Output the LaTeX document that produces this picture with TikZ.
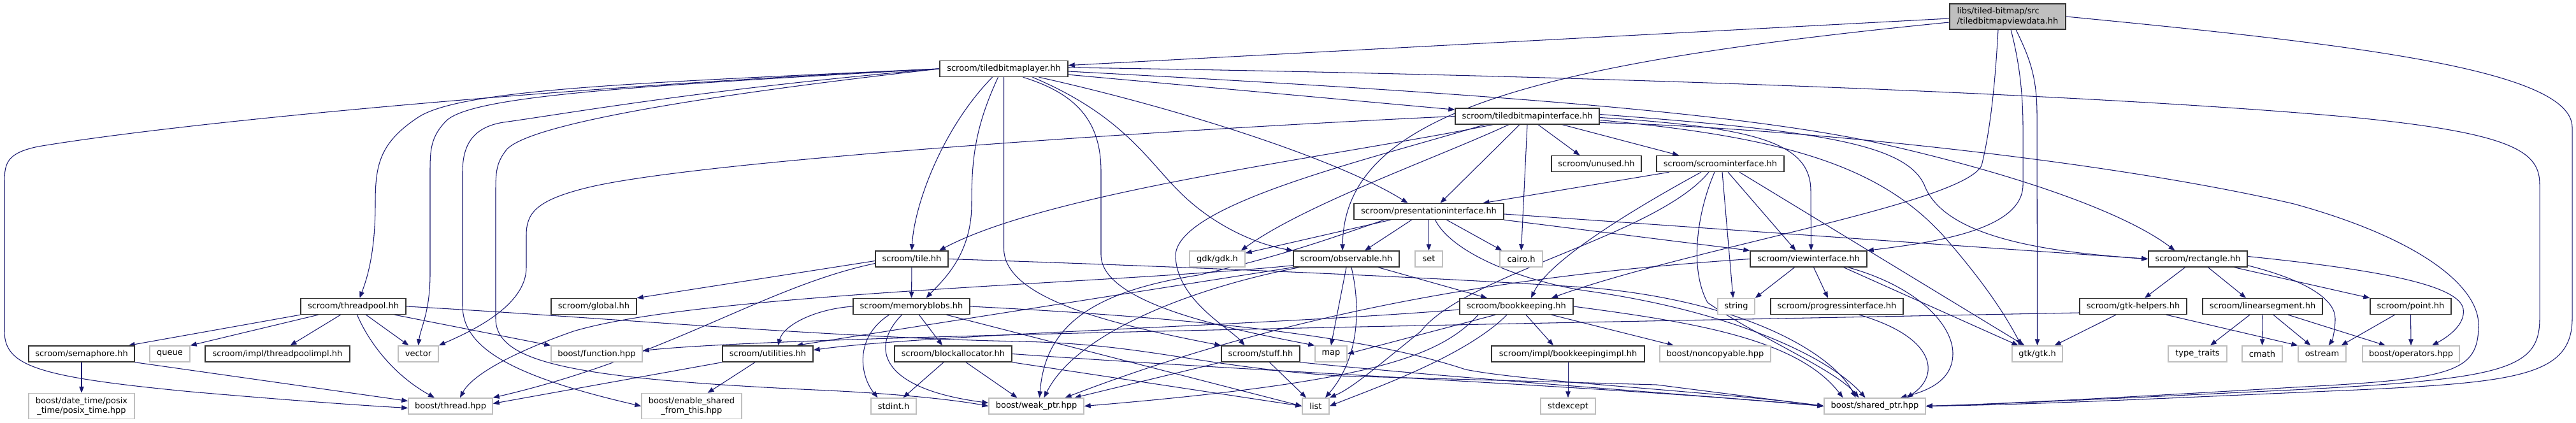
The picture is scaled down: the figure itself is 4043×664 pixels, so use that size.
\documentclass[tikz,border=0pt]{standalone}
\usepackage{fontspec}
\setmainfont{DejaVu Sans}
\usetikzlibrary{arrows.meta}
\pgfdeclarelayer{back}
\pgfdeclarelayer{edges}
\pgfsetlayers{back,edges,main}
\definecolor{edgec}{HTML}{191970}
\definecolor{bordk}{HTML}{333333}
\definecolor{bordg}{HTML}{BFBFBF}
\definecolor{topfill}{HTML}{BFBFBF}
\begin{document}
\begin{tikzpicture}[x=0.1mm,y=-0.1mm,
  nb/.style={draw=bordk, line width=0.4pt, fill=white, inner sep=0pt, minimum height=2.5mm, font=\fontsize{3.7}{4.4}\selectfont, text=black},
  ng/.style={nb, draw=bordg},
  ntop/.style={nb, fill=topfill},
  edg/.style={draw=edgec, line width=0.3pt, -{Triangle[length=1mm,width=0.75mm]}}]
\useasboundingbox (0,0) rectangle (4043,664);
\begin{pgfonlayer}{back}
\fill[white] (0,0) rectangle (4043,664);
\end{pgfonlayer}
% nodes
\node[ntop, minimum width=18.2mm, minimum height=4mm, align=left] (top) at (3151,26) {libs/tiled-bitmap/src\\/tiledbitmapviewdata.hh};
\node[nb, minimum width=20.1mm] (tbl) at (1575.5,108) {scroom/tiledbitmaplayer.hh};
\node[nb, minimum width=22.6mm] (tbi) at (2397,182.5) {scroom/tiledbitmapinterface.hh};
\node[nb, minimum width=14.1mm] (unused) at (2505.5,257) {scroom/unused.hh};
\node[nb, minimum width=20mm] (si) at (2700,257) {scroom/scroominterface.hh};
\node[nb, minimum width=23.5mm] (pi) at (2242.5,332) {scroom/presentationinterface.hh};
\node[nb, minimum width=11.4mm] (tile) at (1431,406.5) {scroom/tile.hh};
\node[ng, minimum width=8.7mm] (gdk) at (1910.5,406.5) {gdk/gdk.h};
\node[nb, minimum width=16.6mm] (obs) at (2113,406.5) {scroom/observable.hh};
\node[ng, minimum width=4.3mm] (set) at (2242.5,406.5) {set};
\node[ng, minimum width=6.7mm] (cairo) at (2387.5,406.5) {cairo.h};
\node[nb, minimum width=18.3mm] (vi) at (2838.5,406.5) {scroom/viewinterface.hh};
\node[nb, minimum width=15.5mm] (rect) at (3449.5,406.5) {scroom/rectangle.hh};
\node[nb, minimum width=16.5mm] (tp) at (554.5,481) {scroom/threadpool.hh};
\node[nb, minimum width=13.4mm] (global) at (932,481) {scroom/global.hh};
\node[nb, minimum width=18.3mm] (mb) at (1430.5,481) {scroom/memoryblobs.hh};
\node[nb, minimum width=17.8mm] (bk) at (2380,481) {scroom/bookkeeping.hh};
\node[ng, minimum width=5.8mm] (string) at (2725,481) {string};
\node[nb, minimum width=20.8mm] (progress) at (2883,481) {scroom/progressinterface.hh};
\node[nb, minimum width=16.8mm] (gtkh) at (3348,481) {scroom/gtk-helpers.hh};
\node[nb, minimum width=18.8mm] (ls) at (3551,481) {scroom/linearsegment.hh};
\node[nb, minimum width=12.7mm] (point) at (3783.5,481) {scroom/point.hh};
\node[nb, minimum width=16.6mm] (sem) at (128,555.5) {scroom/semaphore.hh};
\node[ng, minimum width=6.3mm] (queue) at (266.5,555.5) {queue};
\node[nb, minimum width=22.7mm] (tpi) at (435.5,555.5) {scroom/impl/threadpoolimpl.hh};
\node[ng, minimum width=6.3mm] (vector) at (656.5,555.5) {vector};
\node[ng, minimum width=14.3mm] (function) at (936.5,555.5) {boost/function.hpp};
\node[nb, minimum width=14.2mm] (util) at (1205,555.5) {scroom/utilities.hh};
\node[nb, minimum width=18.4mm] (ba) at (1496,555.5) {scroom/blockallocator.hh};
\node[nb, minimum width=12.3mm] (stuff) at (1978.5,555.5) {scroom/stuff.hh};
\node[ng, minimum width=5mm] (map) at (2089,555.5) {map};
\node[nb, minimum width=24mm] (bki) at (2461,555.5) {scroom/impl/bookkeepingimpl.hh};
\node[ng, minimum width=17.4mm] (noncopy) at (2692,555.5) {boost/noncopyable.hpp};
\node[ng, minimum width=7.9mm] (gtk) at (3197.5,555.5) {gtk/gtk.h};
\node[ng, minimum width=9.2mm] (tt) at (3449,555.5) {type\_traits};
\node[ng, minimum width=6.3mm] (cmath) at (3550.5,555.5) {cmath};
\node[ng, minimum width=7.5mm] (ostream) at (3644.5,555.5) {ostream};
\node[ng, minimum width=15.2mm] (ops) at (3784,555.5) {boost/operators.hpp};
\node[ng, minimum width=16.6mm, minimum height=4mm, align=center] (dt) at (128,637.5) {boost/date\_time/posix\\\_time/posix\_time.hpp};
\node[ng, minimum width=13.2mm] (thread) at (707,637.5) {boost/thread.hpp};
\node[ng, minimum width=15.7mm, minimum height=4mm, align=center] (esft) at (1085.5,637.5) {boost/enable\_shared\\\_from\_this.hpp};
\node[ng, minimum width=7.1mm] (stdint) at (1402.5,637.5) {stdint.h};
\node[ng, minimum width=14.9mm] (weak) at (1626.5,637.5) {boost/weak\_ptr.hpp};
\node[ng, minimum width=4.2mm] (list) at (2065,637.5) {list};
\node[ng, minimum width=8.6mm] (stdexcept) at (2461,637.5) {stdexcept};
\node[ng, minimum width=15.9mm] (shared) at (2942.5,637.5) {boost/shared\_ptr.hpp};
\begin{pgfonlayer}{edges}
% top
\draw[edg] ([yshift=-0.3mm]top.west) -- (tbl);
\draw[edg] ([yshift=-0.9mm]top.west) .. controls (2400,100) and (2110,180) .. ([xshift=-0.6mm]obs.north);
\draw[edg] ([xshift=-1.5mm]top.south) .. controls (3132,120) and (3125,200) .. (3110,260) .. controls (3080,320) and (2650,390) .. ([xshift=5.5mm]bk.north);
\draw[edg] ([xshift=0.5mm]top.south) .. controls (3170,100) and (3175,150) .. (3175,200) -- (3175,290) .. controls (3175,360) and (3040,380) .. (vi.north east);
\draw[edg] ([xshift=1.3mm]top.south) .. controls (3185,90) and (3197,120) .. (3197,180) -- (gtk.north);
\draw[edg] (top.east) .. controls (3700,70) and (4037,110) .. (4037,200) -- (4037,500) .. controls (4037,590) and (3950,600) .. (3700,612) .. controls (3400,625) and (3200,635) .. (shared.east);
% tbl
\draw[edg] (tbl) -- (tbi);
\draw[edg] ([xshift=5.5mm]tbl.south) .. controls (1850,170) and (2100,250) .. ([xshift=-3.3mm]pi.north);
\draw[edg] ([xshift=4.5mm]tbl.south) .. controls (1760,180) and (1800,250) .. (1850,300) .. controls (1910,360) and (1980,385) .. (obs.north west);
\draw[edg] ([xshift=3mm]tbl.south) .. controls (1700,150) and (1728,200) .. (1728,270) -- (1728,400) .. controls (1728,480) and (1950,520) .. (map.north west);
\draw[edg] (tbl.south) -- (1575.5,390) .. controls (1575.5,470) and (1750,510) .. (stuff.north west);
\draw[edg] ([xshift=-1.8mm]tbl.south) .. controls (1480,200) and (1435,320) .. (tile.north);
\draw[edg] ([xshift=-0.9mm]tbl.south) .. controls (1530,200) and (1525,250) .. (1525,320) .. controls (1525,400) and (1480,440) .. ([xshift=2.3mm]mb.north);
\draw[edg] (tbl.west) .. controls (1000,130) and (720,140) .. (655,185) .. controls (595,225) and (589,260) .. (589,320) .. controls (589,400) and (575,440) .. ([xshift=1mm]tp.north);
\draw[edg] (tbl.west) .. controls (1000,135) and (740,150) .. (700,190) .. controls (676,215) and (675,235) .. (675,270) -- (675,430) .. controls (675,490) and (660,515) .. (vector.north);
\draw[edg] (tbl.west) .. controls (900,135) and (300,190) .. (60,230) .. controls (12,240) and (7,255) .. (7,285) -- (7,520) .. controls (7,575) and (60,592) .. (300,615) .. controls (450,628) and (560,636) .. ([yshift=-0.3mm]thread.west);
\draw[edg] (tbl.west) .. controls (1100,140) and (880,180) .. (790,192) .. controls (740,200) and (726,230) .. (726,270) -- (726,480) .. controls (726,545) and (800,590) .. (esft.west);
\draw[edg] (tbl.west) .. controls (1100,150) and (830,195) .. (795,235) .. controls (779,255) and (778,270) .. (778,300) -- (778,500) .. controls (778,570) and (900,595) .. (1300,613) .. controls (1420,619) and (1500,628) .. (weak.west);
\draw[edg] ([yshift=-0.4mm]tbl.east) .. controls (2200,140) and (2700,170) .. (2950,225) .. controls (3150,270) and (3330,330) .. ([xshift=-3.6mm]rect.north);
\draw[edg] ([yshift=0.2mm]tbl.east) .. controls (2500,118) and (3300,148) .. (3700,185) .. controls (3950,210) and (3986,240) .. (3986,290) -- (3986,500) .. controls (3986,580) and (3930,595) .. (3600,612) .. controls (3350,624) and (3150,634) .. (shared.east);
% tbi
\draw[edg] (tbi.west) .. controls (1900,200) and (1100,250) .. (920,295) .. controls (840,315) and (826,335) .. (826,370) -- (826,420) .. controls (826,480) and (740,520) .. (vector.north east);
\draw[edg] ([xshift=-5.4mm]tbi.south) .. controls (2100,245) and (1650,300) .. ([xshift=4.3mm]tile.north);
\draw[edg] ([xshift=-2.9mm]tbi.south) .. controls (2250,250) and (2050,320) .. ([xshift=-0.7mm]gdk.north east);
\draw[edg] ([xshift=-6.7mm]tbi.south) .. controls (2150,250) and (1850,320) .. (1845,400) .. controls (1845,470) and (1930,515) .. ([xshift=-2.5mm]stuff.north);
\draw[edg] ([xshift=-1.2mm]tbi.south) -- ([xshift=1.8mm]pi.north);
\draw[edg] (tbi.south) -- (cairo.north);
\draw[edg] ([xshift=1.7mm]tbi.south) -- ([xshift=-2.6mm]unused.north);
\draw[edg] ([xshift=5.5mm]tbi.south) -- ([xshift=-6.5mm]si.north);
\draw[edg] ([yshift=0.3mm]tbi.east) .. controls (2850,205) and (2990,225) .. (3020,290) .. controls (3050,370) and (3200,395) .. (rect.west);
\draw[edg] ([yshift=-0.2mm]tbi.east) .. controls (2760,200) and (2842,225) .. (2842,300) -- ([xshift=0.4mm]vi.north);
\draw[edg] ([yshift=-0.6mm]tbi.east) .. controls (2800,215) and (2950,260) .. (3050,370) .. controls (3120,450) and (3150,500) .. ([xshift=-2.5mm]gtk.north);
\draw[edg] ([yshift=-1mm]tbi.east) .. controls (2800,200) and (3300,250) .. (3600,320) .. controls (3800,375) and (3890,450) .. (3890,510) .. controls (3890,585) and (3850,595) .. (3600,608) .. controls (3400,620) and (3150,634) .. (shared.east);
% si
\draw[edg] ([xshift=-8mm]si.south) -- ([xshift=8.5mm]pi.north);
\draw[edg] ([xshift=-3mm]si.south) .. controls (2560,330) and (2430,410) .. ([xshift=2.3mm]bk.north);
\draw[edg] ([xshift=-1.8mm]si.south) .. controls (2600,370) and (2300,430) .. (2230,520) .. controls (2150,585) and (2120,610) .. (list.north east);
\draw[edg] ([xshift=-0.9mm]si.south) .. controls (2665,330) and (2650,420) .. (2680,475) .. controls (2760,530) and (2880,580) .. ([xshift=-2.5mm]shared.north);
\draw[edg] ([xshift=0.3mm]si.south) -- ([xshift=-0.5mm]string.north);
\draw[edg] ([xshift=1.2mm]si.south) -- ([xshift=-2mm]vi.north);
\draw[edg] ([xshift=3mm]si.south) -- ([xshift=-2mm]gtk.north);
% pi
\draw[edg] ([xshift=-6mm]pi.south) -- ([yshift=-0.4mm]gdk.north east);
\draw[edg] ([xshift=-2.7mm]pi.south) -- ([xshift=2.9mm]obs.north);
\draw[edg] (pi.south) -- (set.north);
\draw[edg] ([xshift=2.8mm]pi.south) -- ([xshift=-3mm]cairo.north);
\draw[edg] ([xshift=-7mm]pi.south) .. controls (2100,370) and (2020,400) .. (1880,432) .. controls (1700,460) and (1640,520) .. ([xshift=0.5mm]weak.north);
\draw[edg] ([yshift=-0.4mm]pi.east) -- (rect.west);
\draw[edg] (pi.south east) -- (vi.north west);
\draw[edg] ([xshift=1mm]pi.south) .. controls (2280,400) and (2400,445) .. (2500,458) .. controls (2720,490) and (2870,560) .. ([xshift=-1.5mm]shared.north);
% tile
\draw[edg] ([yshift=-0.3mm]tile.west) -- (global.north east);
\draw[edg] ([yshift=-0.7mm]tile.west) .. controls (1200,450) and (1050,560) .. (thread.north east);
\draw[edg] (tile) -- (mb);
\draw[edg] (tile.east) .. controls (1900,420) and (2300,438) .. (2500,452) .. controls (2750,475) and (2880,560) .. ([xshift=-3mm]shared.north);
% obs
\draw[edg] ([xshift=5mm]obs.south) -- ([xshift=-4.6mm]bk.north);
\draw[edg] (obs.south) -- (map.north);
\draw[edg] ([xshift=0.8mm]obs.south) .. controls (2135,480) and (2135,560) .. ([xshift=1.5mm]list.north);
\draw[edg] ([xshift=1mm]obs.south west) .. controls (1880,450) and (1690,520) .. ([xshift=1.2mm]weak.north);
\draw[edg] (obs.south west) -- ([xshift=4.5mm]util.north);
\draw[edg] ([yshift=0.3mm]obs.south west) .. controls (1750,445) and (1100,460) .. (900,520) .. controls (800,555) and (740,590) .. ([xshift=1.5mm]thread.north);
% vi
\draw[edg] ([xshift=-2.2mm]vi.south) -- (string.north east);
\draw[edg] ([xshift=0.8mm]vi.south) -- ([xshift=-1.4mm]progress.north);
\draw[edg] ([xshift=5.5mm]vi.south) -- ([xshift=-3mm]gtk.north);
\draw[edg] ([xshift=6.2mm]vi.south) .. controls (3010,450) and (3065,510) .. (3065,555) .. controls (3065,600) and (3020,615) .. ([xshift=4mm]shared.north);
\draw[edg] (vi.west) .. controls (2400,430) and (2050,480) .. ([xshift=4.5mm]weak.north);
% tp
\draw[edg] (tp.south west) -- ([xshift=-1mm]sem.north east);
\draw[edg] ([xshift=-5.5mm]tp.south) -- (queue.north east);
\draw[edg] ([xshift=-2mm]tp.south) -- ([xshift=2mm]tpi.north);
\draw[edg] ([xshift=0.6mm]tp.south) .. controls (580,540) and (620,590) .. ([xshift=-2.5mm]thread.north);
\draw[edg] ([xshift=2mm]tp.south) -- ([xshift=-1.5mm]vector.north);
\draw[edg] ([xshift=6.5mm]tp.south) -- (function.north west);
\draw[edg] (tp.east) .. controls (900,495) and (1300,530) .. (1600,536) .. controls (1800,540) and (1880,575) .. (2100,590) -- (2600,604) -- (shared.west);
% mb
\draw[edg] ([xshift=1.2mm]mb.south) -- ([xshift=-1.7mm]ba.north);
\draw[edg] ([xshift=-3.5mm]mb.south) .. controls (1340,530) and (1350,590) .. ([xshift=-2.5mm]stdint.north);
\draw[edg] ([xshift=-1.5mm]mb.south) .. controls (1365,545) and (1380,610) .. ([yshift=0.5mm]weak.west);
\draw[edg] ([xshift=5.5mm]mb.south) -- (list.west);
\draw[edg] (mb.west) .. controls (1280,485) and (1230,510) .. ([xshift=1.6mm]util.north);
\draw[edg] (mb.east) .. controls (1900,500) and (2150,530) .. (2300,580) .. controls (2400,600) and (2700,615) .. (shared.west);
% ba
\draw[edg] ([xshift=-1.5mm]ba.south) -- ([xshift=1.5mm]stdint.north);
\draw[edg] ([xshift=2mm]ba.south) -- ([xshift=-3mm]weak.north);
\draw[edg] (ba.south east) -- (list.west);
\draw[edg] (ba.east) .. controls (2000,585) and (2500,605) .. (shared.west);
% stuff
\draw[edg] (stuff.south west) -- ([xshift=6mm]weak.north);
\draw[edg] ([xshift=1.4mm]stuff.south) -- ([xshift=-1.5mm]list.north);
\draw[edg] (stuff.south east) .. controls (2300,595) and (2600,615) .. (shared.west);
% bk
\draw[edg] ([xshift=-3.3mm]bk.south) -- (map.east);
\draw[edg] ([xshift=-1.5mm]bk.south) .. controls (2300,560) and (2150,612) .. (list.east);
\draw[edg] ([xshift=1.5mm]bk.south) -- ([xshift=-2.3mm]bki.north);
\draw[edg] ([xshift=5.5mm]bk.south) -- ([xshift=-6.5mm]noncopy.north);
\draw[edg] (bk.east) .. controls (2650,505) and (2820,530) .. ([xshift=-5mm]shared.north);
\draw[edg] ([yshift=-0.5mm]bk.west) .. controls (2000,510) and (1450,525) .. ([yshift=0.6mm]util.east);
\draw[edg] ([xshift=-6mm]bk.south) .. controls (2260,560) and (2150,600) .. (weak.east);
% bki, progress
\draw[edg] (bki) -- (stdexcept);
\draw[edg] ([xshift=3.5mm]progress.south) .. controls (3040,530) and (3045,590) .. ([xshift=5mm]shared.north);
% rect
\draw[edg] ([xshift=-2mm]rect.south) -- ([xshift=1.8mm]gtkh.north);
\draw[edg] ([xshift=1.6mm]rect.south) -- ([xshift=-2.6mm]ls.north);
\draw[edg] ([xshift=5.7mm]rect.south) -- (point.north west);
\draw[edg] ([yshift=0.3mm]rect.south east) .. controls (3620,440) and (3665,470) .. (3665,500) .. controls (3665,520) and (3660,535) .. ([xshift=1mm]ostream.north);
\draw[edg] ([yshift=0.4mm]rect.east) .. controls (3750,425) and (3860,450) .. (3866,485) .. controls (3870,510) and (3840,530) .. ([xshift=3.3mm]ops.north);
% gtkh
\draw[edg] ([xshift=-2.7mm]gtkh.south) -- ([xshift=2.7mm]gtk.north);
\draw[edg] ([xshift=5.2mm]gtkh.south) -- (ostream.north west);
\draw[edg] ([yshift=-1mm]gtkh.west) .. controls (2000,515) and (1200,530) .. ([yshift=0.5mm]function.east);
% ls, point
\draw[edg] ([xshift=-2mm]ls.south) -- ([xshift=2mm]tt.north);
\draw[edg] (ls.south) -- (cmath.north);
\draw[edg] ([xshift=1.7mm]ls.south) -- ([xshift=-1.8mm]ostream.north);
\draw[edg] ([xshift=4mm]ls.south) -- ([xshift=-4mm]ops.north);
\draw[edg] ([xshift=-2.5mm]point.south) -- ([xshift=3mm]ostream.north);
\draw[edg] (point.south) -- (ops.north);
% sem, util
\draw[edg] (sem) -- (dt);
\draw[edg] (sem.south east) -- ([yshift=0.8mm]thread.west);
\draw[edg] (util.south west) -- ([yshift=0.4mm]thread.east);
\draw[edg] ([xshift=-2mm]util.south) -- ([xshift=2.5mm]esft.north);
\end{pgfonlayer}
\end{tikzpicture}
\end{document}
